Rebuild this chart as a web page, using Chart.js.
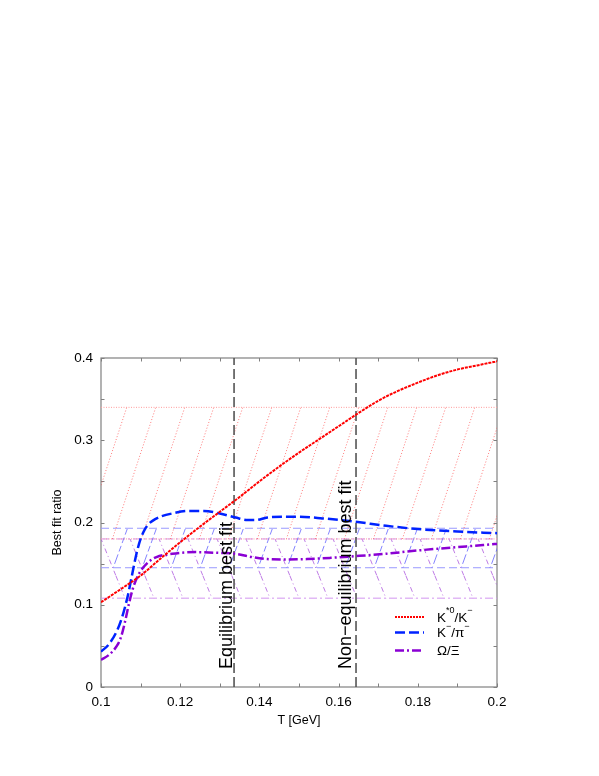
<!DOCTYPE html>
<html>
<head>
<meta charset="utf-8">
<script src="https://cdn.jsdelivr.net/npm/chart.js@4"></script>
<style>
html,body{margin:0;padding:0;background:#fff;}
canvas{display:block;}
</style>
</head>
<body>
<canvas id="c" width="599" height="776"></canvas>
<script>
// ---------- data ----------
const redT   = [0.100,0.105,0.110,0.115,0.120,0.125,0.130,0.135,0.140,0.145,0.150,0.155,0.160,0.165,0.170,0.175,0.180,0.185,0.190,0.195,0.200];
const redV   = [0.103,0.119,0.1355,0.156,0.176,0.195,0.213,0.231,0.250,0.268,0.285,0.301,0.317,0.333,0.348,0.360,0.370,0.379,0.386,0.391,0.396];

const blueT  = [0.100,0.102,0.104,0.105,0.106,0.107,0.108,0.109,0.110,0.111,0.112,0.113,0.115,0.118,0.122,0.126,0.130,0.134,0.137,0.139,0.142,0.146,0.150,0.156,0.164,0.172,0.180,0.190,0.200];
const blueV  = [0.043,0.052,0.068,0.080,0.096,0.116,0.140,0.163,0.180,0.191,0.198,0.202,0.207,0.211,0.214,0.214,0.211,0.206,0.203,0.203,0.206,0.207,0.207,0.205,0.201,0.196,0.192,0.189,0.187];

const purpT  = [0.100,0.102,0.104,0.105,0.106,0.107,0.108,0.109,0.110,0.112,0.114,0.118,0.124,0.130,0.134,0.138,0.142,0.146,0.152,0.158,0.164,0.172,0.180,0.190,0.200];
const purpV  = [0.033,0.039,0.050,0.060,0.078,0.100,0.119,0.132,0.141,0.152,0.158,0.162,0.164,0.163,0.162,0.158,0.1555,0.155,0.1555,0.157,0.159,0.162,0.166,0.170,0.174];

const bandT      = [0.1, 0.2];
const redBand    = [0.180, 0.340];
const blueBand   = [0.145, 0.193];
const purpBand   = [0.108, 0.180];

const eqFitT     = 0.1336;
const noneqFitT  = 0.1644;
const fitLineY   = [0, 0.4];

const xRange = [0.1, 0.2];
const yRange = [0, 0.4];
const xStep = 0.01, yStep = 0.05;

const xTitle = 'T [GeV]';
const yTitle = 'Best fit ratio';
const eqLabel = 'Equilibrium best fit';
const noneqLabel = 'Non\u2212equilibrium best fit';

// ---------- helpers ----------
const pts = (xs, ys) => xs.map((x, i) => ({x, y: ys[i]}));
const flat = (v) => bandT.map(x => ({x, y: v}));
const vline = (t) => fitLineY.map(y => ({x: t, y}));

function hatch(color, dash, w, h, dir) {
  const c = document.createElement('canvas');
  c.width = w; c.height = h;
  const g = c.getContext('2d');
  g.strokeStyle = color; g.lineWidth = 1; g.setLineDash(dash);
  for (let k = -1; k <= 1; k++) {
    g.beginPath();
    if (dir > 0) { g.moveTo(k*w, h); g.lineTo(k*w + w, 0); }
    else { g.moveTo(k*w, 0); g.lineTo(k*w + w, h); }
    g.stroke();
  }
  return g.createPattern(c, 'repeat');
}

const redHatch  = hatch('rgba(255,80,80,0.75)', [1,2], 29, 88, 1);
const blueHatch = hatch('rgba(90,90,255,0.75)', [6,3], 29, 80, 1);
const purpHatch = hatch('rgba(170,80,220,0.75)', [5,3,1,3], 29, 72, -1);

const FONT = 'Liberation Sans, Arial, Helvetica, sans-serif';

const frameTicks = {
  id: 'frameTicks',
  beforeDatasetsDraw(chart) {
    const {ctx, chartArea: a, scales} = chart;
    ctx.save();
    ctx.strokeStyle = '#808080';
    ctx.lineWidth = 1.2;
    ctx.strokeRect(a.left, a.top, a.right - a.left, a.bottom - a.top);
    ctx.lineWidth = 1;
    const L = 3.5;
    scales.x.ticks.forEach(t => {
      const p = Math.round(scales.x.getPixelForValue(t.value)) + 0.5;
      ctx.beginPath();
      ctx.moveTo(p, a.bottom); ctx.lineTo(p, a.bottom - L);
      ctx.moveTo(p, a.top); ctx.lineTo(p, a.top + L);
      ctx.stroke();
    });
    scales.y.ticks.forEach(t => {
      const p = Math.round(scales.y.getPixelForValue(t.value)) + 0.5;
      ctx.beginPath();
      ctx.moveTo(a.left, p); ctx.lineTo(a.left + L, p);
      ctx.moveTo(a.right, p); ctx.lineTo(a.right - L, p);
      ctx.stroke();
    });
    ctx.restore();
  }
};

const annotations = {
  id: 'annotations',
  afterDatasetsDraw(chart) {
    const {ctx, chartArea: a, scales} = chart;
    ctx.save();
    ctx.fillStyle = '#000';
    ctx.font = '18px ' + FONT;
    ctx.textAlign = 'left';
    ctx.textBaseline = 'alphabetic';
    const yb = a.bottom - 18;
    [[eqFitT, eqLabel, 2.5], [noneqFitT, noneqLabel, 5]].forEach(([t, s, off]) => {
      const x = scales.x.getPixelForValue(t) - off;
      ctx.save();
      ctx.translate(x, yb);
      ctx.rotate(-Math.PI / 2);
      ctx.fillText(s, 0, 0);
      ctx.restore();
    });

    // legend
    const items = [
      {color: '#ff0000', dash: [2,1], w: 2, parts: [['K',0],['*0',1],['/K',0],['\u2212',1]]},
      {color: '#0022ff', dash: [10,4], w: 2.5, parts: [['K',0],['\u2212',1],['/\u03C0',0],['\u2212',1]]},
      {color: '#8a00d4', dash: [9,3,2,3], w: 2.5, parts: [['\u03A9/\u039E',0]]}
    ];
    const lx0 = a.right - 102, lx1 = a.right - 73, tx = a.right - 60;
    const ys = [a.bottom - 70, a.bottom - 54.5, a.bottom - 36.5];
    items.forEach((it, i) => {
      const y = ys[i];
      ctx.beginPath();
      ctx.strokeStyle = it.color; ctx.lineWidth = it.w; ctx.setLineDash(it.dash);
      ctx.moveTo(lx0, y); ctx.lineTo(lx1, y); ctx.stroke();
      ctx.setLineDash([]);
      ctx.textBaseline = 'middle';
      let x = tx;
      it.parts.forEach(([s, sup]) => {
        ctx.font = (sup ? '9px ' : '13.5px ') + FONT;
        ctx.fillText(s, x, sup ? y - 6 : y + 1);
        x += ctx.measureText(s).width;
      });
    });
    ctx.restore();
  }
};

const cfg = {
  type: 'line',
  data: {
    datasets: [
      {label: 'K*0/K-', data: pts(redT, redV), borderColor: '#ff0000', borderWidth: 2, borderDash: [3,1], pointRadius: 0, cubicInterpolationMode: 'monotone', fill: false},
      {label: 'K-/pi-', data: pts(blueT, blueV), borderColor: '#0022ff', borderWidth: 2.5, borderDash: [10,4], pointRadius: 0, cubicInterpolationMode: 'monotone', fill: false},
      {label: 'Omega/Xi', data: pts(purpT, purpV), borderColor: '#8a00d4', borderWidth: 2.5, borderDash: [9,3,2,3], pointRadius: 0, cubicInterpolationMode: 'monotone', fill: false},
      {label: 'eq', data: vline(eqFitT), borderColor: '#555555', borderWidth: 1.6, borderDash: [10,4], pointRadius: 0, fill: false},
      {label: 'noneq', data: vline(noneqFitT), borderColor: '#555555', borderWidth: 1.6, borderDash: [10,4], pointRadius: 0, fill: false},
      {label: 'redLow', data: flat(redBand[0]), borderColor: '#ff9c9c', borderWidth: 1, borderDash: [1,1.5], pointRadius: 0, fill: false},
      {label: 'redHigh', data: flat(redBand[1]), borderColor: '#ff9c9c', borderWidth: 1, borderDash: [1,1.5], pointRadius: 0, fill: '-1', backgroundColor: redHatch},
      {label: 'blueLow', data: flat(blueBand[0]), borderColor: '#9a9aff', borderWidth: 1, borderDash: [8,4], pointRadius: 0, fill: false},
      {label: 'blueHigh', data: flat(blueBand[1]), borderColor: '#9a9aff', borderWidth: 1, borderDash: [8,4], pointRadius: 0, fill: '-1', backgroundColor: blueHatch},
      {label: 'purpLow', data: flat(purpBand[0]), borderColor: '#d295f0', borderWidth: 1, borderDash: [8,3,2,3], pointRadius: 0, fill: false},
      {label: 'purpHigh', data: flat(purpBand[1]), borderColor: '#d295f0', borderWidth: 1, borderDash: [8,3,2,3], pointRadius: 0, fill: '-1', backgroundColor: purpHatch}
    ]
  },
  options: {
    responsive: false,
    animation: false,
    events: [],
    layout: {padding: {left: 0, right: 102, top: 358, bottom: 0}},
    plugins: {legend: {display: false}, tooltip: {enabled: false}},
    scales: {
      x: {
        type: 'linear', min: xRange[0], max: xRange[1],
        grid: {display: false, drawTicks: false},
        border: {display: false},
        ticks: {
          stepSize: xStep, autoSkip: false, maxRotation: 0, padding: 7,
          color: '#000', font: {family: FONT, size: 13.5},
          callback: v => (Math.round(v * 100) % 2 === 0) ? String(Math.round(v * 100) / 100) : ''
        },
        title: {display: true, text: xTitle, color: '#000', font: {family: FONT, size: 12.5}, padding: {top: 0, bottom: 48}},
        afterFit: s => { s.height = 89; }
      },
      y: {
        type: 'linear', min: yRange[0], max: yRange[1],
        grid: {display: false, drawTicks: false},
        border: {display: false},
        ticks: {
          stepSize: yStep, autoSkip: false, padding: 8,
          color: '#000', font: {family: FONT, size: 13.5},
          callback: v => (Math.round(v * 100) % 10 === 0) ? String(Math.round(v * 10) / 10) : ''
        },
        title: {display: true, text: yTitle, color: '#000', font: {family: FONT, size: 12.5}, padding: {top: 50, bottom: 0}},
        afterFit: s => { s.width = 101; }
      }
    }
  },
  plugins: [frameTicks, annotations]
};

new Chart(document.getElementById('c'), cfg);
</script>
</body>
</html>
